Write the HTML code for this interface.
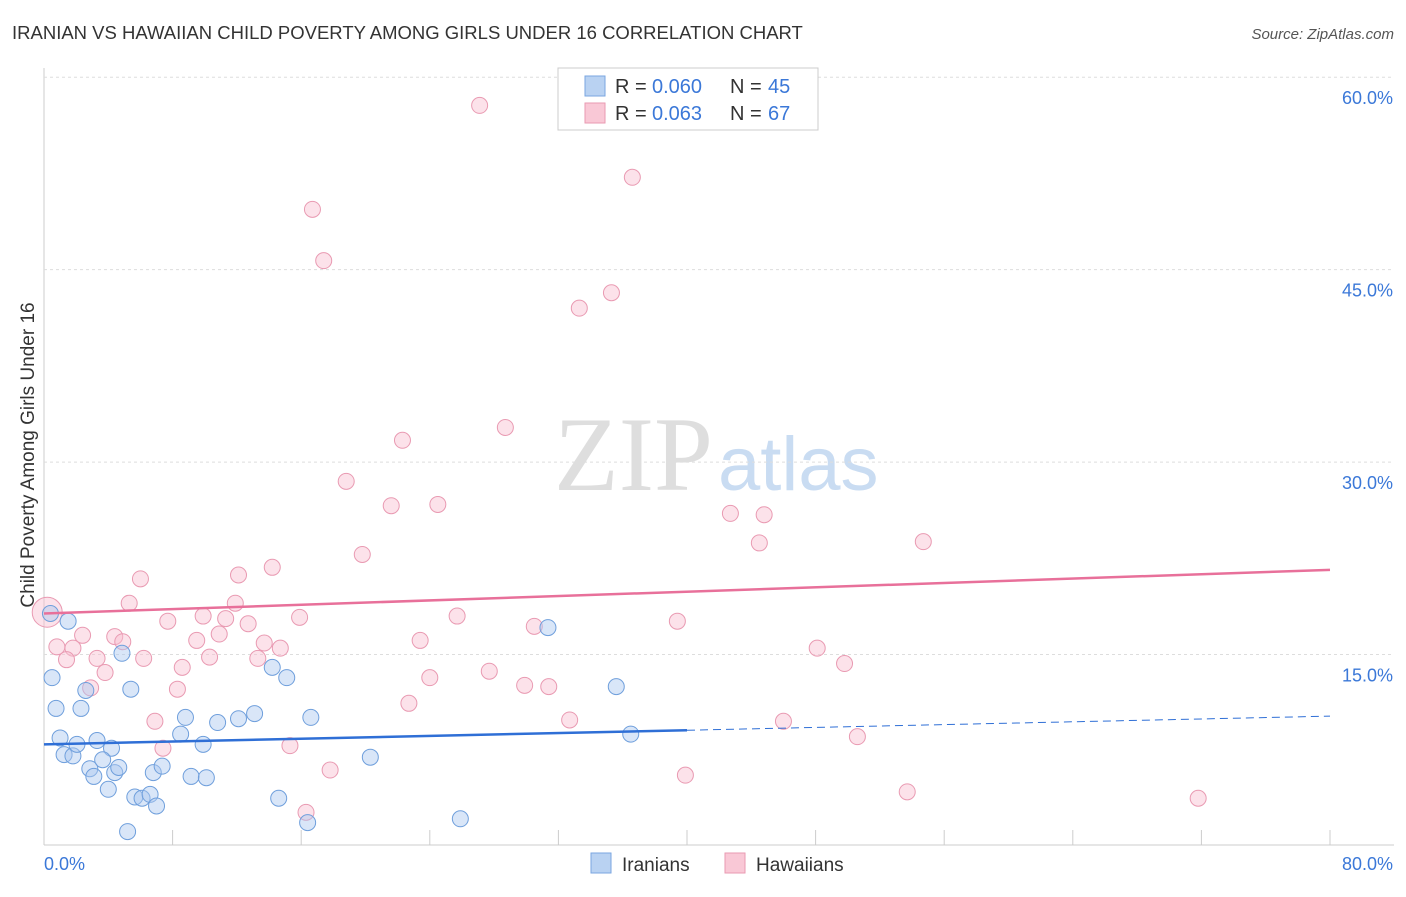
<!DOCTYPE html>
<html><head><meta charset="utf-8"><style>
body{margin:0;background:#fff;font-family:"Liberation Sans",sans-serif;}
</style></head><body>
<svg id="chart" width="1406" height="892" viewBox="0 0 1406 892" font-family="Liberation Sans, sans-serif">
<text x="12" y="39" font-size="18.5" fill="#333">IRANIAN VS HAWAIIAN CHILD POVERTY AMONG GIRLS UNDER 16 CORRELATION CHART</text>
<text x="1394" y="39" font-size="15" fill="#555" font-style="italic" text-anchor="end">Source: ZipAtlas.com</text>
<text x="713" y="490" font-size="106" fill="#dedede" style="font-family:'Liberation Serif',serif" text-anchor="end">ZIP</text>
<text x="718" y="490" font-size="76" fill="#c9dcf2">atlas</text>
<text transform="translate(34,455) rotate(-90)" font-size="19" fill="#333" text-anchor="middle">Child Poverty Among Girls Under 16</text>
<g id="grid"></g><g id="marks"></g>
<rect x="558" y="68" width="260" height="62" fill="#fff" stroke="#ccc"/>
<rect x="585" y="76" width="20" height="20" fill="#b9d2f2" stroke="#7aa6e0"/>
<rect x="585" y="103" width="20" height="20" fill="#f9c8d6" stroke="#e99ab2"/>
<g font-size="20">
<text x="615" y="93" fill="#333">R =</text><text x="652" y="93" fill="#3b78d8">0.060</text><text x="730" y="93" fill="#333">N =</text><text x="768" y="93" fill="#3b78d8">45</text>
<text x="615" y="120" fill="#333">R =</text><text x="652" y="120" fill="#3b78d8">0.063</text><text x="730" y="120" fill="#333">N =</text><text x="768" y="120" fill="#3b78d8">67</text>
</g>
<rect x="591" y="853" width="20" height="20" fill="#b9d2f2" stroke="#7aa6e0"/>
<text x="622" y="871" font-size="19" fill="#333">Iranians</text>
<rect x="725" y="853" width="20" height="20" fill="#f9c8d6" stroke="#e99ab2"/>
<text x="756" y="871" font-size="19" fill="#333">Hawaiians</text>
</svg>
<script>
const yTicks=[15,30,45,60];
const yTickLabels=["15.0%","30.0%","45.0%","60.0%"];
const iraniansX=[1.5,0.5,0.75,2.3,2.6,4.85,5.4,1.0,1.25,1.8,2.05,3.3,4.2,2.85,3.1,3.65,4.0,4.4,4.65,5.2,5.65,6.1,6.6,7.0,6.8,7.35,8.5,8.8,9.15,9.9,10.1,10.8,12.1,13.1,14.2,15.1,14.6,16.4,16.6,20.3,25.9,31.35,35.6,36.5,0.4];
const iraniansY=[17.6,13.2,10.8,10.8,12.2,15.1,12.3,8.5,7.2,7.1,8.0,8.3,7.7,6.1,5.5,6.8,4.5,5.8,6.2,1.2,3.9,3.8,4.1,3.2,5.8,6.3,8.8,10.1,5.5,8.0,5.4,9.7,10.0,10.4,14.0,13.2,3.8,1.9,10.1,7.0,2.2,17.1,12.5,8.8,18.2];
const hawaiiansX=[0.2,27.1,36.6,16.7,17.4,35.3,33.3,22.3,28.7,18.8,21.6,24.5,42.7,44.8,44.5,54.7,19.8,6.0,12.1,14.2,5.3,11.9,7.7,9.9,11.3,12.7,15.9,25.7,30.5,39.4,0.8,1.8,2.4,1.4,3.3,4.4,4.9,3.8,6.2,8.6,9.5,10.3,10.9,13.7,14.7,13.3,23.4,2.9,8.3,24.0,27.7,29.9,31.4,22.7,6.9,32.7,46.0,48.1,49.8,7.4,15.3,17.8,50.6,39.9,16.3,53.7,71.8];
const hawaiiansY=[18.3,57.8,52.2,49.7,45.7,43.2,42.0,31.7,32.7,28.5,26.6,26.7,26.0,25.9,23.7,23.8,22.8,20.9,21.2,21.8,19.0,19.0,17.6,18.0,17.8,17.4,17.9,18.0,17.2,17.6,15.6,15.5,16.5,14.6,14.7,16.4,16.0,13.6,14.7,14.0,16.1,14.8,16.6,15.9,15.5,14.7,16.1,12.4,12.3,13.2,13.7,12.6,12.5,11.2,9.8,9.9,9.8,15.5,14.3,7.7,7.9,6.0,8.6,5.6,2.7,4.3,3.8];
const pinkTrend=[18.2,21.6];
const blueTrend=[8.0,10.2];
const X=v=>44+v/80*1286, Y=v=>847-v*12.83;
const NS="http://www.w3.org/2000/svg";
const grid=document.getElementById('grid'), marks=document.getElementById('marks');
function mk(tag,at,parent){const e=document.createElementNS(NS,tag);for(const k in at)e.setAttribute(k,at[k]);parent.appendChild(e);return e;}
let e=mk('line',{x1:44,x2:44,y1:68,y2:845,stroke:'#ccc'},grid);


e=mk('line',{x1:44,x2:1394,y1:845,y2:845,stroke:'#ccc'},grid);


for(let i=0;i<=10;i++){e=mk('line',{x1:X(i*8),x2:X(i*8),y1:830,y2:845,stroke:'#ccc'},grid);

}
yTicks.forEach((t,i)=>{e=mk('line',{x1:44,x2:1394,y1:Y(t),y2:Y(t),stroke:'#ddd','stroke-dasharray':'3,3'},grid);


e=mk('text',{x:1393,y:Y(t)+27,'font-size':18,fill:'#3b78d8','text-anchor':'end'},grid);e.textContent=yTickLabels[i];

});
e=mk('text',{x:44,y:870,'font-size':18,fill:'#3b78d8'},grid);e.textContent='0.0%';


e=mk('text',{x:1393,y:870,'font-size':18,fill:'#3b78d8','text-anchor':'end'},grid);e.textContent='80.0%';


hawaiiansX.forEach((x,i)=>{e=mk('circle',{cx:X(x),cy:Y(hawaiiansY[i]),r:i==0?15:8,fill:'rgba(249,190,208,0.45)',stroke:'#e99ab2','stroke-width':1},marks);

});
iraniansX.forEach((x,i)=>{e=mk('circle',{cx:X(x),cy:Y(iraniansY[i]),r:8,fill:'rgba(170,200,240,0.45)',stroke:'#6f9fdc','stroke-width':1},marks);

});
e=mk('line',{x1:X(0),y1:Y(pinkTrend[0]),x2:X(80),y2:Y(pinkTrend[1]),stroke:'#e8709a','stroke-width':2.5},marks);


const bm=blueTrend[0]+(blueTrend[1]-blueTrend[0])*0.5;
e=mk('line',{x1:X(0),y1:Y(blueTrend[0]),x2:X(40),y2:Y(bm),stroke:'#2f6fd6','stroke-width':2.5},marks);


e=mk('line',{x1:X(40),y1:Y(bm),x2:X(80),y2:Y(blueTrend[1]),stroke:'#2f6fd6','stroke-width':1,'stroke-dasharray':'8,5'},marks);


</script>
</body></html>
